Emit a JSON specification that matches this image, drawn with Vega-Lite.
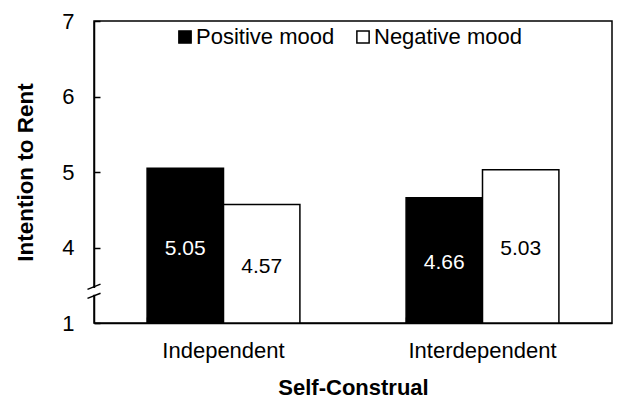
{
  "$schema": "https://vega.github.io/schema/vega-lite/v6.json",
  "autosize": {"type": "none"},
  "width": 518,
  "height": 302,
  "padding": {"left": 94, "top": 21, "right": 8, "bottom": 75},
  "background": "white",
  "config": {
    "font": "Liberation Sans",
    "view": {"stroke": "black", "strokeWidth": 1.5},
    "axis": {"domainColor": "black", "domainWidth": 1.5, "tickColor": "black", "tickWidth": 1.5, "labelColor": "black", "titleColor": "black", "grid": false}
  },
  "data": {
    "values": [
      {"construal": "Independent", "mood": "Positive mood", "value": 5.05},
      {"construal": "Independent", "mood": "Negative mood", "value": 4.57},
      {"construal": "Interdependent", "mood": "Positive mood", "value": 4.66},
      {"construal": "Interdependent", "mood": "Negative mood", "value": 5.03}
    ]
  },
  "encoding": {
    "x": {
      "field": "construal", "type": "nominal",
      "scale": {"paddingInner": 0.41, "paddingOuter": 0.205},
      "axis": {"title": "Self-Construal", "labelAngle": 0, "labelFontSize": 22, "titleFontSize": 22, "titleFontWeight": "bold", "tickSize": -6, "bandPosition": 0, "labelPadding": 23, "titlePadding": 16}
    },
    "xOffset": {"field": "mood", "type": "nominal", "sort": ["Positive mood", "Negative mood"], "scale": {"paddingInner": 0, "paddingOuter": 0}}
  },
  "layer": [
    {
      "mark": {"type": "bar", "stroke": "black", "strokeWidth": 1.5},
      "encoding": {
        "y": {
          "field": "value", "type": "quantitative",
          "scale": {"domain": [3, 7], "nice": false, "zero": false},
          "axis": {"title": "Intention to Rent", "values": [3, 4, 5, 6, 7], "labelExpr": "datum.value == 3 ? '1' : format(datum.value, 'd')", "labelFontSize": 22, "titleFontSize": 22.5, "titleFontWeight": "bold", "tickSize": -6, "labelPadding": 26, "titlePadding": 24}
        },
        "y2": {"datum": 3},
        "color": {
          "field": "mood", "type": "nominal",
          "scale": {"domain": ["Positive mood", "Negative mood"], "range": ["black", "white"]},
          "legend": {"title": null, "orient": "none", "legendX": 80, "legendY": 5, "direction": "horizontal", "symbolType": "square", "symbolSize": 150, "symbolStrokeColor": "black", "symbolStrokeWidth": 1.5, "symbolOpacity": 1, "labelFontSize": 22, "labelColor": "black", "labelOffset": 0, "columnPadding": 17, "padding": 0}
        }
      }
    },
    {
      "transform": [{"calculate": "(datum.value + 3) / 2", "as": "mid"}],
      "mark": {"type": "text", "fontSize": 21, "baseline": "middle", "align": "center", "dy": 3},
      "encoding": {
        "y": {"field": "mid", "type": "quantitative"},
        "text": {"field": "value", "type": "quantitative", "format": ".2f"},
        "color": {"condition": {"test": "datum.mood == 'Positive mood'", "value": "white"}, "value": "black"}
      }
    },
    {
      "mark": {"type": "rule", "stroke": "white", "strokeWidth": 5},
      "encoding": {"x": {"value": 0}, "y": {"datum": 3.46}, "y2": {"datum": 3.38}, "xOffset": null}
    },
    {
      "data": {"values": [{"b": 3.48}, {"b": 3.36}]},
      "mark": {"type": "point", "shape": "M-1,0.4L1,-0.4", "size": 170, "filled": false, "stroke": "black", "strokeWidth": 1.5, "opacity": 1},
      "encoding": {"x": {"value": 0}, "y": {"field": "b", "type": "quantitative"}, "xOffset": null}
    }
  ]
}
